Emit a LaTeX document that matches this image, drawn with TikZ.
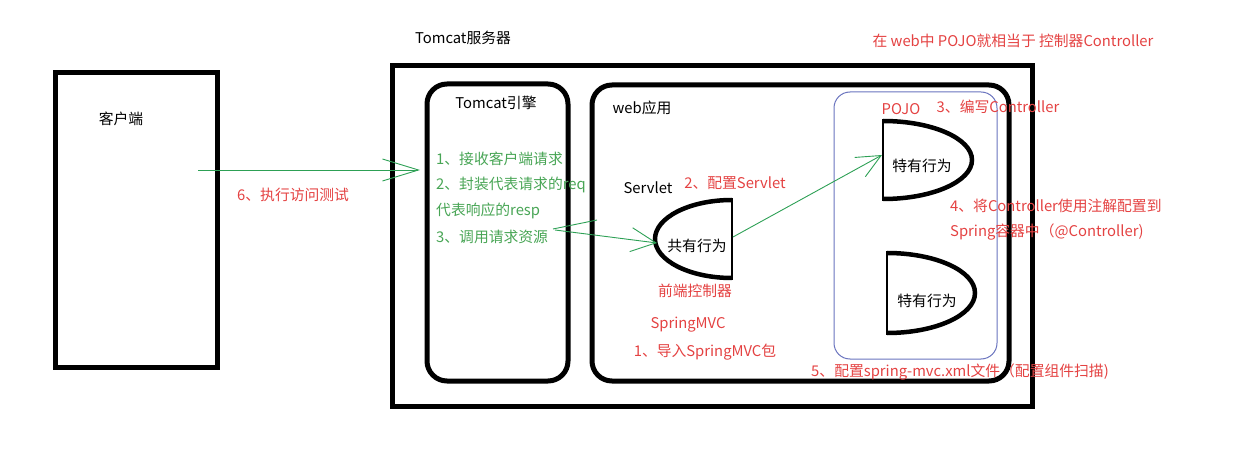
\documentclass[tikz,border=0pt]{standalone}
\usepackage{fontspec}
\setmainfont{Noto Sans CJK SC}
\usetikzlibrary{arrows.meta}
\definecolor{redtxt}{RGB}{228,66,66}
\definecolor{greentxt}{RGB}{72,165,85}
\definecolor{greenline}{RGB}{45,160,85}
\definecolor{bluebox}{RGB}{105,115,190}
\tikzset{
  box/.style={draw=black,line width=5pt},
  rbox/.style={draw=black,line width=5pt,rounded corners=20pt},
  txt/.style={font=\fontsize{14.8}{17}\selectfont,inner sep=0pt},
  rtxt/.style={txt,text=redtxt},
  gtxt/.style={txt,text=greentxt,anchor=west},
  dcurve/.style={line width=4.5pt},
  dflat/.style={line width=2pt},
  garrow/.style={draw=greenline,line width=0.9pt},
}
\begin{document}
\begin{tikzpicture}[x=1pt,y=-1pt]
\useasboundingbox (0,0) rectangle (1234,462);
% boxes
\draw[box] (55,73) rectangle (217,367);
\draw[box] (392,66) rectangle (1032,406);
\draw[rbox] (427,84) rectangle (568,381);
\draw[rbox] (592,85) rectangle (1009,381);
\draw[draw=bluebox,line width=1pt,rounded corners=16pt] (834,92) rectangle (997,359);
% D shapes
\draw[dcurve] (732,200) .. controls (689.5,200) and (655,217.5) .. (655,239) .. controls (655,260.5) and (689.5,278) .. (732,278);
\draw[dflat] (732,198) -- (732,280);
\draw[dcurve] (883,121) .. controls (932.2,121) and (972,138.5) .. (972,160) .. controls (972,181.5) and (932.2,199) .. (883,199);
\draw[dflat] (883,119) -- (883,201);
\draw[dcurve] (887,253) .. controls (935.6,253) and (975,270.9) .. (975,293) .. controls (975,315.1) and (935.6,333) .. (887,333);
\draw[dflat] (887,251) -- (887,335);
% black labels
\node[txt] (server) at (463,38) {Tomcat服务器};
\node[txt] (client) at (121,119) {客户端};
\node[txt] (engine) at (496,103) {Tomcat引擎};
\node[txt] (webapp) at (642,108) {web应用};
\node[txt] (servlet) at (648,188) {Servlet};
\node[txt] (shared) at (697,246) {共有行为};
\node[txt] (own1) at (922,166) {特有行为};
\node[txt] (own2) at (927,301) {特有行为};
% red labels
\node[rtxt] (note) at (1013,41) {在 web中 POJO就相当于 控制器Controller};
\node[rtxt] (pojo) at (901,109) {POJO};
\node[rtxt] (step3) at (998,107) {3、编写Controller};
\node[rtxt] (step2) at (735,183) {2、配置Servlet};
\node[rtxt,anchor=west] (step4a) at (950,206) {4、将Controller使用注解配置到};
\node[rtxt,anchor=west] (step4b) at (950,232) {Spring容器中（@Controller)};
\node[rtxt] (front) at (695,291) {前端控制器};
\node[rtxt] (smvc) at (688,325) {SpringMVC};
\node[rtxt] (step1) at (705,352) {1、导入SpringMVC包};
\node[rtxt] (step5) at (960,372) {5、配置spring-mvc.xml文件（配置组件扫描)};
\node[rtxt,anchor=west] (step6) at (237,195) {6、执行访问测试};
% green labels
\node[gtxt] (g1) at (436,159) {1、接收客户端请求};
\node[gtxt] (g2) at (436,185) {2、封装代表请求的req};
\node[gtxt] (g3) at (436,211) {代表响应的resp};
\node[gtxt] (g4) at (436,237) {3、调用请求资源};
% connector points
\coordinate (a1s) at (198,170);
\coordinate (a1e) at (420,170);
\coordinate (a2s) at (555,230);
\coordinate (a2e) at (657,243);
\coordinate (a3s) at (733,237);
\coordinate (a3e) at (882,155);
\coordinate (strayS) at (553,229);
\coordinate (strayE) at (597,220);
\draw[garrow,-{Straight Barb[length=36pt,width=22pt]}] (a1s) -- (a1e);
\draw[garrow,-{Straight Barb[length=25pt,width=24pt]}] (a2s) -- (a2e);
\draw[garrow,-{Straight Barb[length=24pt,width=22pt]}] (a3s) -- (a3e);
\draw[garrow] (strayS) -- (strayE);
\end{tikzpicture}
\end{document}
